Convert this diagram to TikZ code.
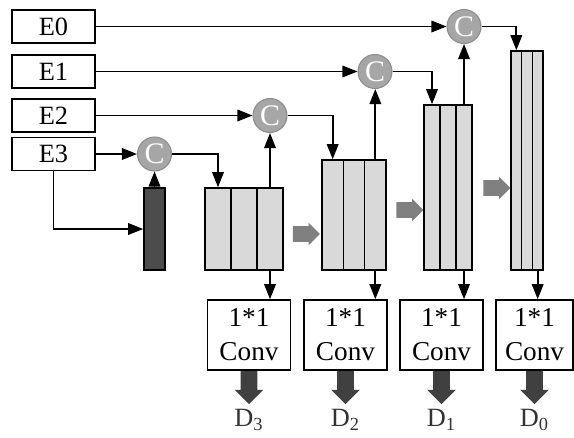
\documentclass[tikz,border=0pt]{standalone}
\usepackage{fontspec}
\setmainfont{Liberation Serif}
\usetikzlibrary{arrows.meta,shapes.arrows}

\tikzset{
  ebox/.style={draw, line width=0.9pt, minimum width=1.66cm, minimum height=0.66cm, inner sep=0pt, font=\fontsize{15}{18}\selectfont},
  cat/.style={circle, draw=black!45, line width=0.6pt, fill=black!35, text=white, minimum size=0.68cm, inner sep=0pt, font=\fontsize{17}{20}\selectfont},
  col/.style={draw, line width=0.9pt, fill=black!15, inner sep=0pt},
  conv/.style={draw, line width=0.9pt, minimum width=1.66cm, minimum height=1.4cm, inner sep=0pt, align=center, font=\fontsize{15.5}{19.5}\selectfont},
  garrow/.style={single arrow, fill=black!50, inner xsep=0pt, inner ysep=0.15cm, single arrow head extend=0.07cm, minimum height=0.54cm},
  darrow/.style={single arrow, fill=black!75, inner xsep=0pt, inner ysep=0.16cm, single arrow head extend=0.12cm, minimum height=0.66cm, rotate=-90},
  link/.style={-{Triangle[length=3mm,width=2.3mm]}, line width=1pt},
  dlabel/.style={text=black!80, font=\fontsize{15}{18}\selectfont}
}

\begin{document}
\begin{tikzpicture}[x=0.02cm, y=-0.02cm]
	\useasboundingbox (0,0) rectangle (574,437);

	% encoder features
	\node[ebox] (E0) at (53.5,26.5) {E0};
	\node[ebox] (E1) at (53.5,71.5) {E1};
	\node[ebox] (E2) at (53.5,115.5) {E2};
	\node[ebox] (E3) at (53.5,154) {E3};

	% concatenation
	\node[cat] (C3) at (154.5,154) {C};
	\node[cat] (C2) at (270,115.5) {C};
	\node[cat] (C1) at (375,71.5) {C};
	\node[cat] (C0) at (464,26.5) {C};

	% stacked feature maps
	\node[col, fill=black!70, minimum width=0.42cm, minimum height=1.64cm] (e3c) at (154.5,229) {};

	\node[col, minimum width=0.52cm, minimum height=1.64cm] (b3a) at (218,229) {};
	\node[col, minimum width=0.52cm, minimum height=1.64cm] (b3b) at (244,229) {};
	\node[col, minimum width=0.52cm, minimum height=1.64cm] (b3c) at (270,229) {};

	\node[col, minimum width=0.4267cm, minimum height=2.2cm] (b2a) at (332.67,215) {};
	\node[col, minimum width=0.4267cm, minimum height=2.2cm] (b2b) at (354,215) {};
	\node[col, minimum width=0.4267cm, minimum height=2.2cm] (b2c) at (375.33,215) {};

	\node[col, minimum width=0.32cm, minimum height=3.3cm] (b1a) at (432,187.5) {};
	\node[col, minimum width=0.32cm, minimum height=3.3cm] (b1b) at (448,187.5) {};
	\node[col, minimum width=0.32cm, minimum height=3.3cm] (b1c) at (464,187.5) {};

	\node[col, minimum width=0.2133cm, minimum height=4.38cm] (b0a) at (516.33,160.5) {};
	\node[col, minimum width=0.2133cm, minimum height=4.38cm] (b0b) at (527,160.5) {};
	\node[col, minimum width=0.2133cm, minimum height=4.38cm] (b0c) at (537.67,160.5) {};

	% upsampling steps
	\node[garrow] (g3) at (302.5,234) {};
	\node[garrow] (g2) at (406,210) {};
	\node[garrow] (g1) at (493,188) {};

	% output heads
	\node[conv] (cv3) at (249,335) {1*1\\Conv};
	\node[conv] (cv2) at (345.5,335) {1*1\\Conv};
	\node[conv] (cv1) at (441.5,335) {1*1\\Conv};
	\node[conv, minimum width=1.54cm] (cv0) at (534.5,335) {1*1\\Conv};

	\node[darrow, anchor=tail] (o3) at (cv3.south) {};
	\node[darrow, anchor=tail] (o2) at (cv2.south) {};
	\node[darrow, anchor=tail] (o1) at (cv1.south) {};
	\node[darrow, anchor=tail] (o0) at (cv0.south) {};

	\node[dlabel] (D3) at (249,420) {D\textsubscript{3}};
	\node[dlabel] (D2) at (345.5,420) {D\textsubscript{2}};
	\node[dlabel] (D1) at (441.5,420) {D\textsubscript{1}};
	\node[dlabel] (D0) at (534.5,420) {D\textsubscript{0}};

	% skip connections
	\draw[link] (E0) -- (C0);
	\draw[link] (E1) -- (C1);
	\draw[link] (E2) -- (C2);
	\draw[link] (E3) -- (C3);
	\draw[link] (E3.south) |- (e3c.west);

	\draw[link] (C3) -| (b3a.north);
	\draw[link] (C2) -| (b2a.north);
	\draw[link] (C1) -| (b1a.north);
	\draw[link] (C0) -| (b0a.north);

	\draw[link] (e3c.north) -- (C3);
	\draw[link] (b3c.north) -- (b3c.north |- C2.south);
	\draw[link] (b2c.north) -- (b2c.north |- C1.south);
	\draw[link] (b1c.north) -- (b1c.north |- C0.south);

	\draw[link] (b3c.south) -- (b3c.south |- cv3.north);
	\draw[link] (b2c.south) -- (b2c.south |- cv2.north);
	\draw[link] (b1c.south) -- (b1c.south |- cv1.north);
	\draw[link] (b0c.south) -- (b0c.south |- cv0.north);
\end{tikzpicture}
\end{document}
